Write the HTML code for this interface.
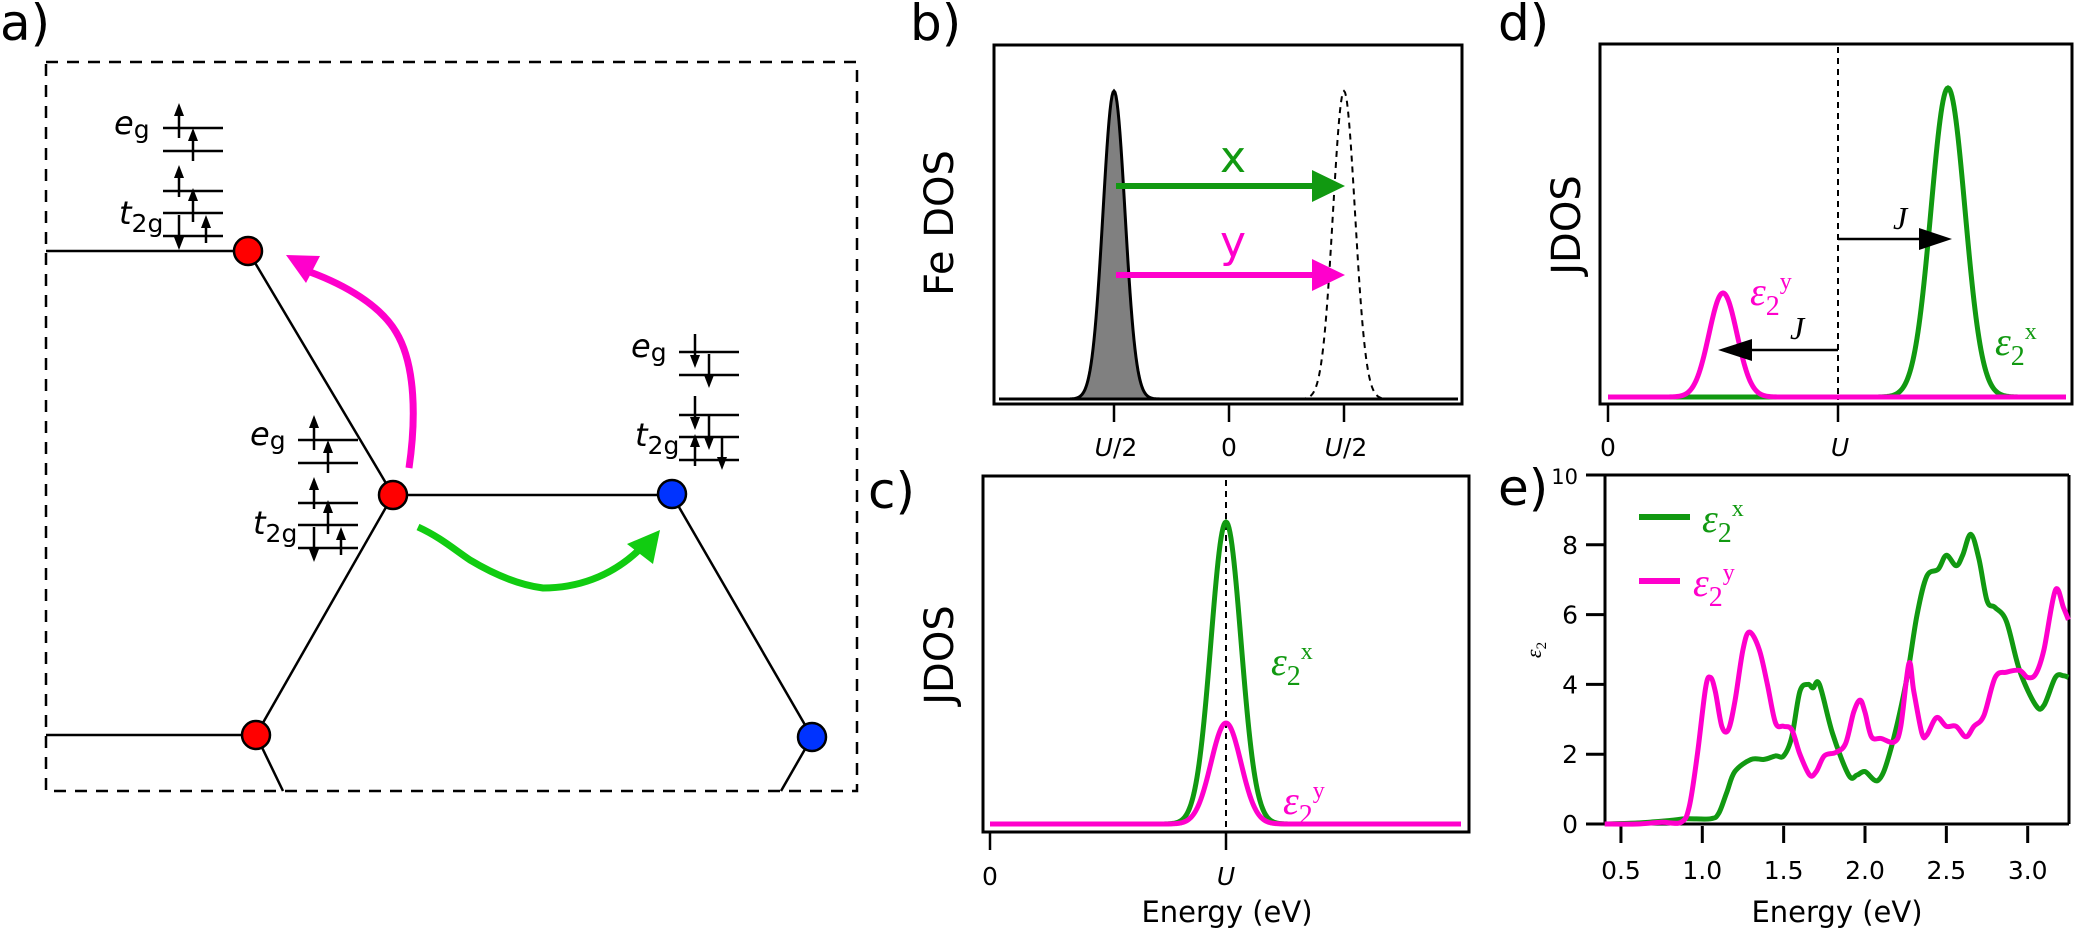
<!DOCTYPE html>
<html><head><meta charset="utf-8">
<style>
html,body{margin:0;padding:0;background:#fff;}
svg{display:block;}
text{font-family:"DejaVu Sans","Liberation Sans",sans-serif;}
.ser{font-family:"Liberation Serif",serif;}
</style></head>
<body>
<svg id="s" width="2075" height="931" viewBox="0 0 2075 931" xmlns="http://www.w3.org/2000/svg">
<defs>
<g id="lv">
 <g stroke="#000" stroke-width="2.5">
  <line x1="0" y1="0" x2="60" y2="0"/><line x1="0" y1="23" x2="60" y2="23"/>
  <line x1="0" y1="63" x2="60" y2="63"/><line x1="0" y1="85" x2="60" y2="85"/>
  <line x1="0" y1="108" x2="60" y2="108"/>
 </g>
</g>
</defs>

<g font-size="50" fill="#000">
<text x="0" y="40">a)</text>
<text x="910" y="40">b)</text>
<text x="1498" y="40">d)</text>
<text x="868" y="508">c)</text>
<text x="1498" y="505">e)</text>
</g>

<!-- ===== panel a ===== -->
<rect x="46" y="62" width="811" height="729" fill="none" stroke="#000" stroke-width="2.5" stroke-dasharray="12,9"/>
<g stroke="#000" stroke-width="2.5" fill="none">
 <line x1="46" y1="251" x2="248" y2="251"/>
 <line x1="248" y1="251" x2="393" y2="495"/>
 <line x1="393" y1="495" x2="672" y2="495"/>
 <line x1="393" y1="495" x2="256" y2="735"/>
 <line x1="46" y1="735" x2="256" y2="735"/>
 <line x1="256" y1="735" x2="283" y2="791"/>
 <line x1="672" y1="495" x2="812" y2="737"/>
 <line x1="812" y1="737" x2="781" y2="791"/>
</g>
<g stroke="#000" stroke-width="2.5">
 <circle cx="248" cy="251" r="14" fill="#ff0000"/>
 <circle cx="393" cy="495" r="14" fill="#ff0000"/>
 <circle cx="256" cy="735" r="14" fill="#ff0000"/>
 <circle cx="672" cy="494" r="14" fill="#0033ff"/>
 <circle cx="812" cy="737" r="14" fill="#0033ff"/>
</g>
<g transform="translate(163,128)"><use href="#lv"/></g>
<g transform="translate(298,440)"><use href="#lv"/></g>
<g transform="translate(679,352)"><use href="#lv"/></g>
<g font-size="32" fill="#000">
 <text x="114" y="134"><tspan font-style="italic">e</tspan><tspan font-size="25" dy="4">g</tspan></text>
 <text x="119" y="224"><tspan font-style="italic">t</tspan><tspan font-size="25" dy="8">2g</tspan></text>
 <text x="250" y="445"><tspan font-style="italic">e</tspan><tspan font-size="25" dy="4">g</tspan></text>
 <text x="253" y="534"><tspan font-style="italic">t</tspan><tspan font-size="25" dy="8">2g</tspan></text>
 <text x="631" y="357"><tspan font-style="italic">e</tspan><tspan font-size="25" dy="4">g</tspan></text>
 <text x="635" y="446"><tspan font-style="italic">t</tspan><tspan font-size="25" dy="8">2g</tspan></text>
</g>
<path d="M409,468 C416,420 416,365 396,332 C380,305 345,285 310,272" fill="none" stroke="#ff00cc" stroke-width="7"/>
<polygon points="286,255 320,256 306,283" fill="#ff00cc"/>
<path d="M418,527 C440,537 455,550 470,560 C495,575 520,585 543,588 C575,588 610,578 640,549" fill="none" stroke="#11cc11" stroke-width="7"/>
<polygon points="660,530 627,544 653,564" fill="#11cc11"/>

<!-- ===== panel b ===== -->
<rect x="994" y="45" width="468" height="359" fill="none" stroke="#000" stroke-width="3"/>
<line x1="999" y1="399" x2="1458" y2="399" stroke="#000" stroke-width="3"/>
<path id="bpk" fill="#808080" stroke="#000" stroke-width="3"/>
<path id="bpk2" fill="none" stroke="#000" stroke-width="2" stroke-dasharray="6,5"/>
<g stroke="#000" stroke-width="2.5">
 <line x1="1114" y1="404" x2="1114" y2="422"/><line x1="1229" y1="404" x2="1229" y2="422"/><line x1="1344" y1="404" x2="1344" y2="422"/>
</g>
<g font-size="25" text-anchor="middle">
 <text x="1116" y="456"><tspan font-style="italic">U</tspan>/2</text>
 <text x="1229" y="456">0</text>
 <text x="1346" y="456"><tspan font-style="italic">U</tspan>/2</text>
</g>
<text transform="translate(953,223) rotate(-90)" font-size="40" text-anchor="middle">Fe DOS</text>
<line x1="1116" y1="186" x2="1315" y2="186" stroke="#119911" stroke-width="6"/>
<polygon points="1312,170 1345,186 1312,202" fill="#119911"/>
<line x1="1116" y1="275" x2="1315" y2="275" stroke="#ff00cc" stroke-width="6"/>
<polygon points="1312,259 1345,275 1312,291" fill="#ff00cc"/>
<text x="1233" y="172" font-size="44" fill="#119911" text-anchor="middle">x</text>
<text x="1233" y="257" font-size="44" fill="#ff00cc" text-anchor="middle">y</text>

<!-- ===== panel d ===== -->
<rect x="1600" y="44" width="472" height="360" fill="none" stroke="#000" stroke-width="3"/>
<line x1="1838" y1="47" x2="1838" y2="400" stroke="#000" stroke-width="2" stroke-dasharray="6,5"/>
<path id="dg" fill="none" stroke="#119911" stroke-width="5"/>
<path id="dm" fill="none" stroke="#ff00cc" stroke-width="5"/>
<g stroke="#000" stroke-width="2.5">
 <line x1="1608" y1="404" x2="1608" y2="422"/><line x1="1838" y1="404" x2="1838" y2="422"/>
</g>
<g font-size="25" text-anchor="middle">
 <text x="1608" y="456">0</text>
 <text x="1840" y="456" font-style="italic">U</text>
</g>
<text transform="translate(1580,225) rotate(-90)" font-size="40" text-anchor="middle">JDOS</text>
<line x1="1838" y1="239" x2="1922" y2="239" stroke="#000" stroke-width="2.5"/>
<polygon points="1919,228 1952,239 1919,250" fill="#000"/>
<line x1="1838" y1="350" x2="1750" y2="350" stroke="#000" stroke-width="2.5"/>
<polygon points="1752,339 1718,350 1752,361" fill="#000"/>
<text x="1893" y="229" font-size="32" font-style="italic" class="ser">J</text>
<text x="1790" y="339" font-size="32" font-style="italic" class="ser">J</text>
<text x="1750" y="305" font-size="40" fill="#ff00cc" class="ser"><tspan font-style="italic">ε</tspan><tspan font-size="28" dy="10">2</tspan><tspan font-size="24" dy="-26">y</tspan></text>
<text x="1995" y="355" font-size="40" fill="#119911" class="ser"><tspan font-style="italic">ε</tspan><tspan font-size="28" dy="10">2</tspan><tspan font-size="24" dy="-26">x</tspan></text>

<!-- ===== panel c ===== -->
<rect x="983" y="476" width="486" height="356" fill="none" stroke="#000" stroke-width="3"/>
<line x1="1226" y1="480" x2="1226" y2="832" stroke="#000" stroke-width="2" stroke-dasharray="6,5"/>
<path id="cg" fill="none" stroke="#119911" stroke-width="5"/>
<path id="cm" fill="none" stroke="#ff00cc" stroke-width="5"/>
<g stroke="#000" stroke-width="2.5">
 <line x1="990" y1="832" x2="990" y2="850"/><line x1="1226" y1="832" x2="1226" y2="850"/>
</g>
<g font-size="25" text-anchor="middle">
 <text x="990" y="885">0</text>
 <text x="1226" y="885" font-style="italic">U</text>
</g>
<text x="1227" y="922" font-size="29" text-anchor="middle">Energy (eV)</text>
<text transform="translate(953,655) rotate(-90)" font-size="40" text-anchor="middle">JDOS</text>
<text x="1271" y="675" font-size="40" fill="#119911" class="ser"><tspan font-style="italic">ε</tspan><tspan font-size="28" dy="10">2</tspan><tspan font-size="24" dy="-26">x</tspan></text>
<text x="1283" y="814" font-size="40" fill="#ff00cc" class="ser"><tspan font-style="italic">ε</tspan><tspan font-size="28" dy="10">2</tspan><tspan font-size="24" dy="-26">y</tspan></text>

<!-- ===== panel e ===== -->
<g stroke="#000" stroke-width="3" fill="none">
 <line x1="1605" y1="475" x2="1605" y2="825"/>
 <line x1="1586" y1="475" x2="2069" y2="475"/>
 <line x1="1586" y1="824" x2="2069" y2="824"/>
 <line x1="2069" y1="475" x2="2069" y2="824"/>
</g>
<g stroke="#000" stroke-width="3" id="eticks"></g>
<g font-size="25" text-anchor="end" id="eylab"></g>
<g font-size="25" text-anchor="middle" id="exlab"></g>
<text x="1837" y="922" font-size="29" text-anchor="middle">Energy (eV)</text>
<text transform="translate(1541,650) rotate(-90)" font-size="22" class="ser" text-anchor="middle"><tspan font-style="italic">ε</tspan><tspan font-size="15" dy="5">2</tspan></text>
<path id="eg" fill="none" stroke="#119911" stroke-width="5" stroke-linejoin="round"/>
<path id="em" fill="none" stroke="#ff00cc" stroke-width="5" stroke-linejoin="round"/>
<line x1="1639" y1="517" x2="1690" y2="517" stroke="#119911" stroke-width="6"/>
<line x1="1639" y1="581" x2="1680" y2="581" stroke="#ff00cc" stroke-width="6"/>
<text x="1702" y="532" font-size="40" fill="#119911" class="ser"><tspan font-style="italic">ε</tspan><tspan font-size="28" dy="10">2</tspan><tspan font-size="24" dy="-26">x</tspan></text>
<text x="1693" y="596" font-size="40" fill="#ff00cc" class="ser"><tspan font-style="italic">ε</tspan><tspan font-size="28" dy="10">2</tspan><tspan font-size="24" dy="-26">y</tspan></text>
</svg>
<script>
var NS="http://www.w3.org/2000/svg";
function el(t,a,p){var e=document.createElementNS(NS,t);for(var k in a)e.setAttribute(k,a[k]);(p||document.getElementById('s')).appendChild(e);return e;}
function arr(x,y1,y2){
 var dir=y2<y1?-1:1;
 el('line',{x1:x,y1:y1,x2:x,y2:y2-dir*10,stroke:'#000','stroke-width':2.5});
 el('polygon',{points:(x-5)+','+(y2-dir*13)+' '+x+','+y2+' '+(x+5)+','+(y2-dir*13),fill:'#000'});
}
function site(X,Y,up){
 var c1=X+16,c2=X+30,c3=X+43;
 if(up){arr(c1,Y+10,Y-25);arr(c2,Y+33,Y);arr(c1,Y+69,Y+37);arr(c2,Y+94,Y+60);arr(c1,Y+87,Y+122);arr(c3,Y+115,Y+87);}
 else{arr(c1,Y-18,Y+16);arr(c2,Y+2,Y+36);arr(c1,Y+44,Y+78);arr(c2,Y+64,Y+98);arr(c1,Y+114,Y+82);arr(c3,Y+86,Y+118);}
}
site(163,128,true);site(298,440,true);site(679,352,false);
function gauss(x0,s,h,base,xa,xb){var d='';for(var x=xa;x<=xb;x+=1){var y=base-h*Math.exp(-(x-x0)*(x-x0)/(2*s*s));d+=(d?'L':'M')+x+','+y.toFixed(2);}return d;}
document.getElementById('bpk').setAttribute('d',gauss(1114,11,308,399,1070,1160)+'Z');
document.getElementById('bpk2').setAttribute('d',gauss(1344,11,308,399,1300,1390));
document.getElementById('dg').setAttribute('d',gauss(1948,17,309,397,1660,1790)+' M1860,397 '+gauss(1948,17,309,397,1860,2040).slice(1));
document.getElementById('dm').setAttribute('d',gauss(1723,14,104,397,1608,2066));
document.getElementById('cg').setAttribute('d',gauss(1226,15,302,824,1140,1320));
document.getElementById('cm').setAttribute('d',gauss(1226,15,101,824,990,1461));
var g=document.getElementById('eticks'),yl=document.getElementById('eylab'),xl=document.getElementById('exlab');
function X(E){return 1539.6+E*162.7;} function Y(v){return 824-v*34.9;}
for(var v=0;v<=10;v+=2){el('line',{x1:1586,y1:Y(v),x2:1605,y2:Y(v)},g);var t=el('text',{x:1578,y:Y(v)+9,'font-size':v==10?21:25},yl);t.textContent=v;}
for(var E=0.5;E<=3.01;E+=0.5){el('line',{x1:X(E),y1:826,x2:X(E),y2:843},g);var t=el('text',{x:X(E),y:879},xl);t.textContent=E.toFixed(1);}
function cr(pts){var p=pts.map(function(q){return [X(q[0]),Y(q[1])];});var d='M'+p[0][0].toFixed(1)+','+p[0][1].toFixed(1);
 for(var i=0;i<p.length-1;i++){var a=p[i-1]||p[i],b=p[i],c=p[i+1],e=p[i+2]||c;
 d+='C'+(b[0]+(c[0]-a[0])/6).toFixed(1)+','+(b[1]+(c[1]-a[1])/6).toFixed(1)+' '+(c[0]-(e[0]-b[0])/6).toFixed(1)+','+(c[1]-(e[1]-b[1])/6).toFixed(1)+' '+c[0].toFixed(1)+','+c[1].toFixed(1);}return d;}
var G=[[0.4,0],[0.6,0.03],[0.8,0.1],[0.9,0.15],[1.05,0.15],[1.1,0.3],[1.15,0.9],[1.2,1.5],[1.3,1.85],[1.38,1.85],[1.45,1.95],[1.5,1.95],[1.55,2.5],[1.6,3.8],[1.65,4.0],[1.68,3.9],[1.72,4.0],[1.8,2.6],[1.9,1.4],[1.95,1.4],[2.0,1.5],[2.08,1.25],[2.15,2.0],[2.25,4.0],[2.32,6.0],[2.38,7.1],[2.45,7.3],[2.5,7.7],[2.56,7.4],[2.6,7.7],[2.65,8.3],[2.7,7.6],[2.75,6.4],[2.8,6.2],[2.87,5.8],[2.95,4.4],[3.05,3.4],[3.1,3.4],[3.17,4.2],[3.22,4.25],[3.25,4.2]];
var M=[[0.4,0],[0.6,0],[0.75,0.05],[0.87,0.05],[0.92,0.5],[0.97,2],[1.02,3.9],[1.05,4.2],[1.08,3.8],[1.12,2.8],[1.16,2.7],[1.2,3.5],[1.25,5.0],[1.29,5.5],[1.35,5.0],[1.4,4.0],[1.45,2.9],[1.5,2.8],[1.55,2.7],[1.6,2.0],[1.66,1.4],[1.7,1.5],[1.75,1.95],[1.82,2.05],[1.88,2.3],[1.93,3.2],[1.97,3.55],[2.0,3.2],[2.04,2.5],[2.1,2.45],[2.18,2.35],[2.22,2.8],[2.27,4.6],[2.3,3.8],[2.35,2.6],[2.38,2.55],[2.44,3.05],[2.5,2.8],[2.56,2.8],[2.62,2.5],[2.67,2.8],[2.73,3.1],[2.8,4.2],[2.87,4.35],[2.95,4.4],[3.0,4.2],[3.05,4.3],[3.1,5.0],[3.17,6.7],[3.22,6.2],[3.25,5.85]];
document.getElementById('eg').setAttribute('d',cr(G));
document.getElementById('em').setAttribute('d',cr(M));
</script>
</body></html>
